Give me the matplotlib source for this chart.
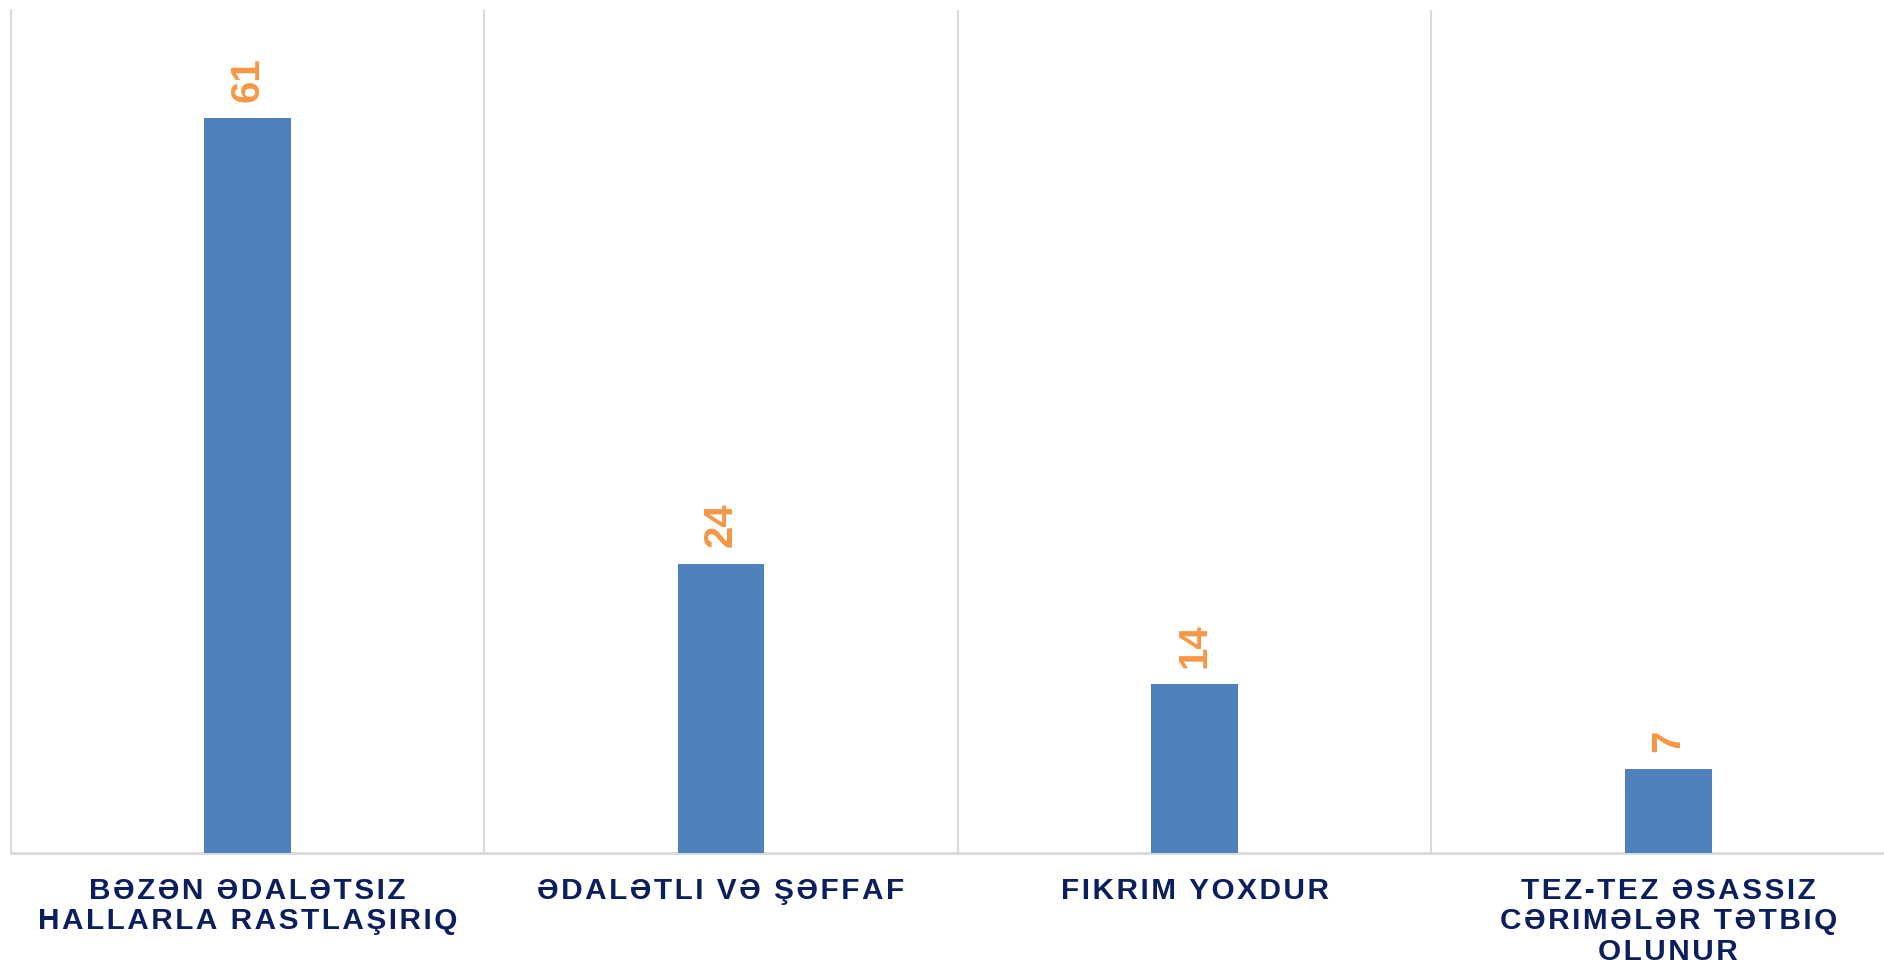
import matplotlib.pyplot as plt
import numpy as np

categories = [
    "BƏZƏN ƏDALƏTSIZ\nHALLARLA RASTLAŞIRIQ",
    "ƏDALƏTLI VƏ ŞƏFFAF",
    "FIKRIM YOXDUR",
    "TEZ-TEZ ƏSASSIZ\nCƏRIMƏLƏR TƏTBIQ\nOLUNUR",
]
values = [61, 24, 14, 7]

BAR_COLOR = "#4F81BD"
LABEL_COLOR = "#F79646"
TEXT_COLOR = "#0B1F5E"
GRID_COLOR = "#D9D9D9"


def spaced(s):
    # Excel label has extra letter spacing; fake it with hair spaces
    return "\n".join("\u200a".join(line) for line in s.split("\n"))


def main():
    fig = plt.figure(figsize=(18.84, 9.67), dpi=100)
    ax = fig.add_axes([10.6 / 1884, 1 - 853 / 967, 1894.4 / 1884, 843 / 967])

    x = np.arange(len(categories))
    bars = ax.bar(x, values, width=0.183, color=BAR_COLOR, zorder=3)

    for rect, v in zip(bars, values):
        ax.annotate(str(v), (rect.get_x() + rect.get_width() / 2, rect.get_height()),
                    xytext=(0, 12), textcoords="offset points",
                    ha="center", va="bottom", rotation=90,
                    fontsize=29, fontweight="bold", color=LABEL_COLOR,
                    family="Liberation Sans")

    ax.set_xlim(-0.5, len(categories) - 0.5)
    ax.set_ylim(0, 70)

    ax.set_xticks(x)
    ax.set_xticklabels([spaced(c) for c in categories], fontsize=21.4, fontweight="bold",
                       color=TEXT_COLOR, family=["Liberation Sans", "DejaVu Sans"],
                       linespacing=1.13)
    ax.tick_params(axis="x", length=0, pad=17)
    ax.set_yticks([])

    # separators between categories
    ax.set_xticks(x[:-1] + 0.5, minor=True)
    ax.tick_params(axis="x", which="minor", length=0)
    ax.grid(axis="x", which="minor", color=GRID_COLOR, linewidth=1.5, zorder=0)

    for s in ["top", "right"]:
        ax.spines[s].set_visible(False)
    ax.spines["left"].set_color(GRID_COLOR)
    ax.spines["left"].set_linewidth(1.5)
    ax.spines["bottom"].set_color(GRID_COLOR)
    ax.spines["bottom"].set_linewidth(2)

    fig.savefig("out.png", dpi=100)


if __name__ == "__main__":
    main()
